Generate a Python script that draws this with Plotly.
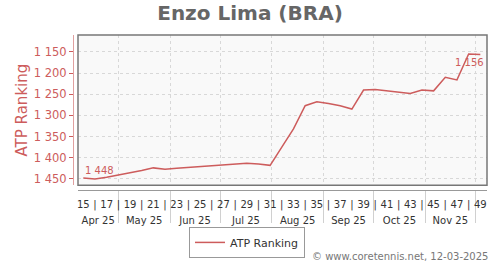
import datetime as dt
import pandas as pd
import plotly.graph_objects as go

# ---- data ----
weeks = list(range(15, 50))
ranking = [1448, 1450, 1446, 1441, 1436, 1430, 1424, 1427, 1425, 1423,
           1421, 1420, 1418, 1416, 1413, 1415, 1418, 1375, 1332, 1277,
           1268, 1272, 1277, 1285, 1240, 1239, 1242, 1244, 1248, 1240,
           1242, 1210, 1216, 1155, 1156]
y_ticks = [1150, 1200, 1250, 1300, 1350, 1400, 1450]
month_starts = ["2025-04-01", "2025-05-01", "2025-06-01", "2025-07-01", "2025-08-01",
                "2025-09-01", "2025-10-01", "2025-11-01", "2025-12-01"]
series_name = "ATP Ranking"
title_text = "Enzo Lima (BRA)"
credit_text = "© www.coretennis.net, 12-03-2025"

# ---- derived ----
dates = [dt.date.fromisocalendar(2025, w, 4) for w in weeks]
x_range = [pd.Timestamp("2025-04-06 20:00"), pd.Timestamp("2025-12-08 00:00")]
week_text = [str(w) if w % 2 else "|" for w in weeks]
ms = [pd.Timestamp(m) for m in month_starts]
month_mid, month_lbl = [], []
for a, b in zip(ms[:-1], ms[1:]):
    lo = max(a, x_range[0]); hi = min(b, x_range[1])
    month_mid.append(lo + (hi - lo) / 2)
    month_lbl.append(a.strftime("%b %y"))

def fmt(v):
    return f"{v:,}".replace(",", " ")

RED = "#cd5c5c"
FONT = "DejaVu Sans"
W, H = 500, 270
ML, MR, MT, MB = 70, 13, 35, 40
pw, ph = W - ML - MR, H - MT - MB
def px_x(p): return (p - ML) / pw
def px_y(p): return (H - MB - p) / ph

fig = go.Figure()
fig.add_trace(go.Scatter(x=dates, y=ranking, mode="lines", name=series_name,
                         line=dict(color=RED, width=1.5), xaxis="x", yaxis="y"))
for ax in ["x2", "x3", "x4"]:
    fig.add_trace(go.Scatter(x=[], y=[], xaxis=ax, yaxis="y", showlegend=False))

common_x = dict(type="date", range=x_range, domain=[px_x(78), 1], fixedrange=True)
GRID = dict(showgrid=True, gridcolor="#d8d8d8", griddash="3px,3px", gridwidth=1)

fig.update_layout(
    width=W, height=H, template="none",
    margin=dict(l=ML, r=MR, t=MT, b=MB, pad=0),
    paper_bgcolor="white", plot_bgcolor="#f9f9f9",
    separators=". ",
    font=dict(family=FONT, color="#333"),
    title=dict(text=f"<b>{title_text}</b>", x=0.5, xref="container", xanchor="center",
               y=1 - 13 / H, yref="container", yanchor="middle",
               font=dict(family=FONT, size=20, color="#666")),
    xaxis=dict(**common_x, anchor="y", tickvals=ms, showticklabels=False, ticks="",
               **GRID, showline=False, zeroline=False, automargin=False),
    xaxis2=dict(**common_x, overlaying="x", anchor="free", position=px_y(195),
                tickvals=ms, showticklabels=False, ticks="outside", ticklen=32,
                tickcolor="#d0d0d0", tickwidth=1, showline=True, linecolor="#999",
                linewidth=1, showgrid=False, zeroline=False, automargin=False),
    xaxis3=dict(**common_x, overlaying="x", anchor="free", position=px_y(195),
                tickvals=dates, ticktext=week_text, ticks="outside", ticklen=5,
                tickcolor="rgba(0,0,0,0)", showline=False,
                showgrid=False, zeroline=False, automargin=False,
                tickfont=dict(family=FONT, size=10, color="#333")),
    xaxis4=dict(**common_x, overlaying="x", anchor="free", position=px_y(195),
                tickvals=month_mid, ticktext=month_lbl, ticks="outside", ticklen=21,
                tickcolor="rgba(0,0,0,0)", showline=False, showgrid=False,
                zeroline=False, automargin=False,
                tickfont=dict(family=FONT, size=10, color="#333")),
    yaxis=dict(range=[1465, 1110], domain=[px_y(190), 1], anchor="free",
               position=px_x(73), tickvals=y_ticks,
               ticktext=[fmt(v) for v in y_ticks], ticks="outside", ticklen=4,
               tickcolor=RED, showline=True, linecolor="#e0a0a0", linewidth=1,
               **GRID, zeroline=False, automargin=False, fixedrange=True,
               tickfont=dict(family=FONT, size=11.5, color=RED),
               title=dict(text=series_name, font=dict(family=FONT, size=15, color=RED),
                          standoff=1)),
    legend=dict(orientation="h", x=px_x(247), xanchor="center", y=px_y(233), yanchor="top",
                bordercolor="#999", borderwidth=1, bgcolor="white",
                font=dict(family=FONT, size=11, color="#333")),
    showlegend=True,
)

# plot border
fig.add_shape(type="rect", xref="x domain", yref="y domain", x0=0, x1=1, y0=0, y1=1,
              line=dict(color="#777", width=1.5), fillcolor="rgba(0,0,0,0)", layer="above")

# data labels
fig.add_annotation(x=dates[0], y=ranking[0], xref="x", yref="y", text=fmt(ranking[0]),
                   showarrow=False, xanchor="left", yanchor="bottom", yshift=0,
                   font=dict(family=FONT, size=10, color=RED))
fig.add_annotation(x=dates[-1], y=ranking[-1], xref="x", yref="y", text=fmt(ranking[-1]),
                   showarrow=False, xanchor="right", yanchor="top", yshift=-1, xshift=6,
                   font=dict(family=FONT, size=10, color=RED))
# credit
fig.add_annotation(x=px_x(490), y=px_y(264), xref="paper", yref="paper", text=credit_text,
                   showarrow=False, xanchor="right", yanchor="middle",
                   font=dict(family=FONT, size=10, color="#777"))

fig.write_html("out.html")
